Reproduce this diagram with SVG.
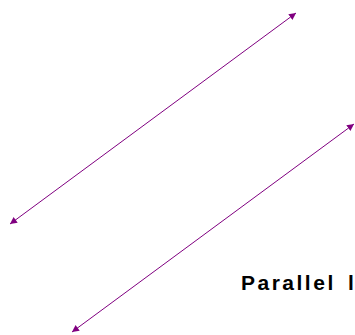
<svg xmlns="http://www.w3.org/2000/svg" width="355" height="335" viewBox="0 0 355 335">
  <style>
    .line { stroke: #800080; stroke-width: 1; fill: none; }
    .label { font-family: "Liberation Sans", Arial, sans-serif; font-weight: bold; font-size: 21px; letter-spacing: 2.5px; word-spacing: 4px; fill: #000000; }
  </style>
  <defs>
    <marker id="arrowEnd" markerWidth="8" markerHeight="7" refX="7" refY="3.5" orient="auto" markerUnits="userSpaceOnUse">
      <path d="M0,0 L7,3.5 L0,7 Z" fill="#800080"/>
    </marker>
    <marker id="arrowStart" markerWidth="8" markerHeight="7" refX="0" refY="3.5" orient="auto" markerUnits="userSpaceOnUse">
      <path d="M7,0 L0,3.5 L7,7 Z" fill="#800080"/>
    </marker>
  </defs>
  <rect width="355" height="335" fill="#ffffff"/>
  <g id="connectors">
    <line id="line1" class="line" x1="10" y1="224" x2="296" y2="13" marker-start="url(#arrowStart)" marker-end="url(#arrowEnd)"/>
    <line id="line2" class="line" x1="72" y1="332" x2="354" y2="124" marker-start="url(#arrowStart)" marker-end="url(#arrowEnd)"/>
  </g>
  <g id="label">
    <text class="label" x="241" y="290">Parallel l</text>
  </g>
</svg>
